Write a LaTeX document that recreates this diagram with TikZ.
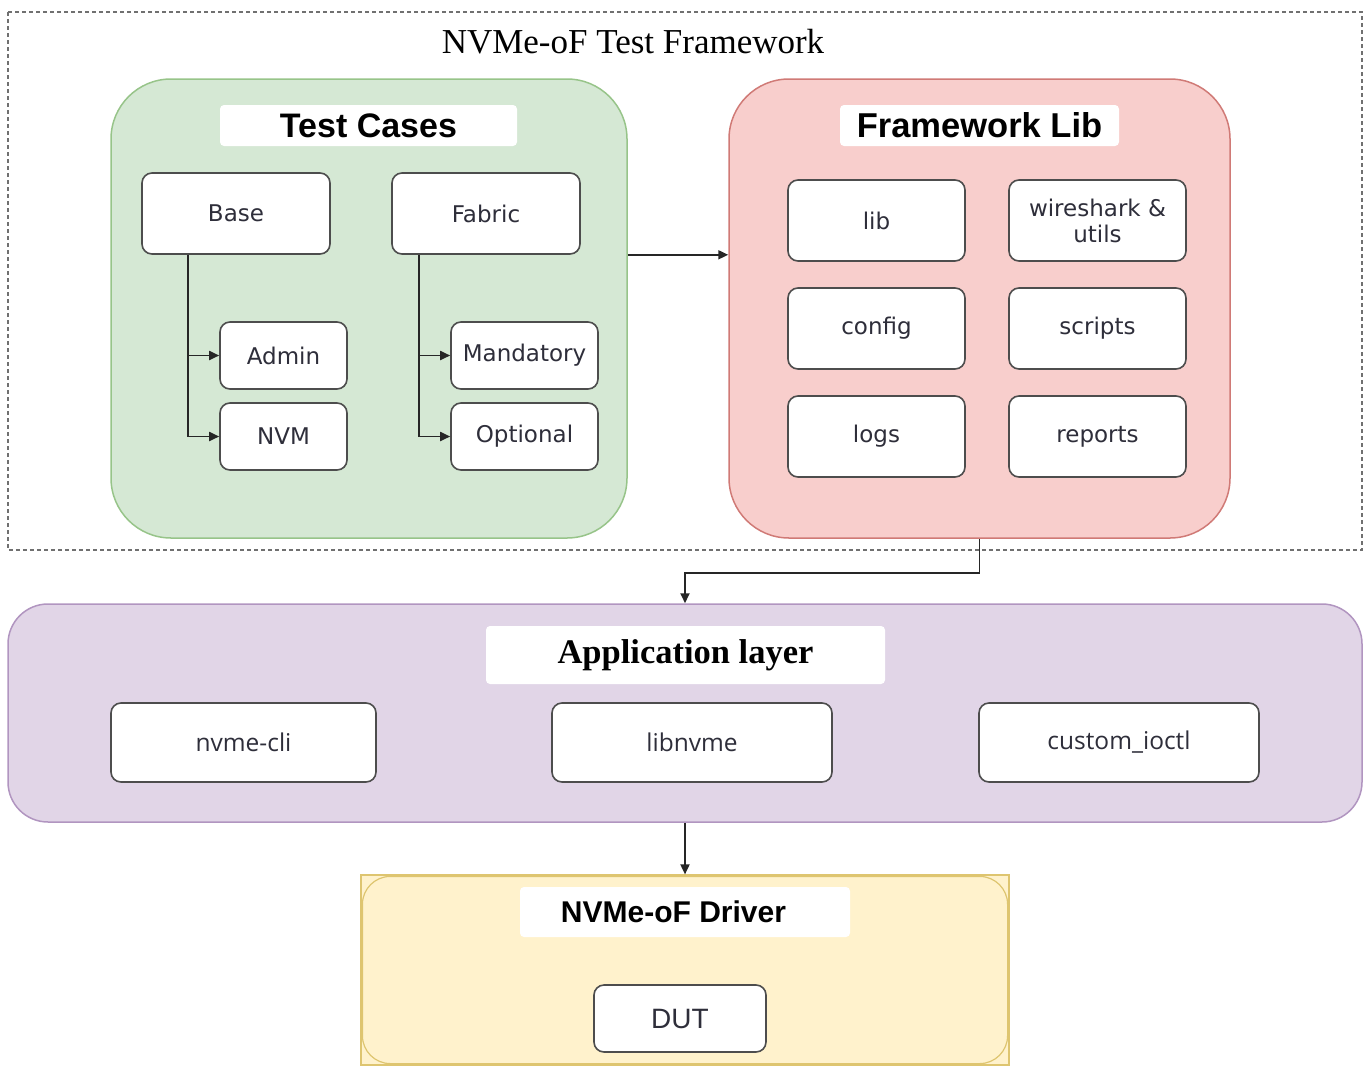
\documentclass[tikz,border=0pt]{standalone}
\usepackage{fontspec}
\setmainfont{Liberation Serif}
\newfontfamily\dejavu{DejaVu Sans}
\newfontfamily\opensans{Open Sans}
\newfontfamily\lsans{Liberation Sans}
\usetikzlibrary{arrows.meta,positioning}

\definecolor{grnfill}{HTML}{D5E8D4}
\definecolor{grnline}{HTML}{97C489}
\definecolor{redfill}{HTML}{F8CECC}
\definecolor{redline}{HTML}{D07A76}
\definecolor{purfill}{HTML}{E1D5E7}
\definecolor{purline}{HTML}{B195C0}
\definecolor{yelfill}{HTML}{FFF2CC}
\definecolor{yelline}{HTML}{DEC570}
\definecolor{boxline}{HTML}{4D4D4D}
\definecolor{boxtext}{HTML}{2E2E3A}
\definecolor{frameline}{HTML}{707070}

\tikzset{
  group/.style={draw, line width=1.5pt, rounded corners=60pt, inner sep=0pt},
  grouplabel/.style={fill=white, rounded corners=4pt, inner sep=0pt, text=black},
  item/.style={draw=boxline, fill=white, line width=1.6pt, rounded corners=10pt,
    inner sep=0pt, align=center, text=boxtext, font=\dejavu\fontsize{23}{26}\selectfont},
  appitem/.style={item, font=\opensans\fontsize{24.5}{28}\selectfont},
  arr/.style={draw=black!85, line width=1.8pt, -{Triangle[length=10pt,width=9pt]}}
}

\begin{document}
\begin{tikzpicture}[x=1pt,y=-1pt]
\useasboundingbox (0,0) rectangle (1368,1068);

% outer framework frame and its title
\draw[frameline, line width=1.4pt, dash pattern=on 4pt off 3pt] (8,12) rectangle (1362,550);
\node[font=\fontsize{35}{38}\selectfont] (title) at (633,42) {NVMe-oF Test Framework};

% test cases group
\node[group, draw=grnline, fill=grnfill, minimum width=516pt, minimum height=459pt] (green) at (369,308.5) {};
\node[grouplabel, minimum width=297pt, minimum height=41pt, font=\lsans\bfseries\fontsize{34}{36}\selectfont] (tclabel) at (368.5,125.5) {Test Cases};
\node[item, minimum width=188pt, minimum height=81pt] (base) at (236,213.5) {Base};
\node[item, minimum width=188pt, minimum height=81pt] (fabric) at (486,213.5) {Fabric};
\node[item, minimum width=127pt, minimum height=67pt] (admin) at (283.5,355.5) {Admin};
\node[item, minimum width=127pt, minimum height=67pt] (nvm) at (283.5,436.5) {NVM};
\node[item, minimum width=147pt, minimum height=67pt] (mand) at (524.5,355.5) {Mandatory};
\node[item, minimum width=147pt, minimum height=67pt] (opt) at (524.5,436.5) {Optional};

\draw[arr] ([xshift=-48pt]base.south) |- (admin.west);
\draw[arr] ([xshift=-48pt]base.south) |- (nvm.west);
\draw[arr] ([xshift=-67pt]fabric.south) |- (mand.west);
\draw[arr] ([xshift=-67pt]fabric.south) |- (opt.west);

% framework library group
\node[group, draw=redline, fill=redfill, minimum width=501pt, minimum height=459pt] (pink) at (979.5,308.5) {};
\node[grouplabel, minimum width=279pt, minimum height=41pt, font=\lsans\bfseries\fontsize{34.5}{36}\selectfont] (fllabel) at (979.5,125.5) {Framework Lib};
\node[item, minimum width=177pt, minimum height=81pt] (lib) at (876.5,220.5) {lib};
\node[item, minimum width=177pt, minimum height=81pt] (wire) at (1097.5,220.5) {wireshark \&\\utils};
\node[item, minimum width=177pt, minimum height=81pt] (config) at (876.5,328.5) {config};
\node[item, minimum width=177pt, minimum height=81pt] (scripts) at (1097.5,328.5) {scripts};
\node[item, minimum width=177pt, minimum height=81pt] (logs) at (876.5,436.5) {logs};
\node[item, minimum width=177pt, minimum height=81pt] (reports) at (1097.5,436.5) {reports};

\draw[arr] (green.east |- base.south) -- (pink.west |- base.south);

% application layer
\node[group, rounded corners=40pt, draw=purline, fill=purfill, minimum width=1354pt, minimum height=218pt] (purple) at (685,713) {};
\node[grouplabel, minimum width=399pt, minimum height=58pt, font=\bfseries\fontsize{34.5}{36}\selectfont] (applabel) at (685.5,655) {Application layer};
\node[appitem, minimum width=265pt, minimum height=79pt] (cli) at (243.5,742.5) {nvme-cli};
\node[appitem, minimum width=280pt, minimum height=79pt] (libnvme) at (692,742.5) {libnvme};
\node[appitem, minimum width=280pt, minimum height=79pt] (ioctl) at (1119,742.5) {custom\_ioctl};

\draw[arr] (pink.south) -- ++(0,34) -| (purple.north);

% driver layer
\node[draw=yelline, fill=yelfill, line width=1.2pt, inner sep=0pt, minimum width=648pt, minimum height=190pt] (yellow) at (685,970) {};
\draw[yelline, line width=1.2pt, rounded corners=28pt] ([shift={(2,2)}]yellow.north west) rectangle ([shift={(-2,-2)}]yellow.south east);
\node[grouplabel, minimum width=330pt, minimum height=50pt] (drvlabel) at (685,912) {};
\node[font=\lsans\bfseries\fontsize{30}{32}\selectfont, inner sep=0pt] (drvtext) at (673.5,912) {NVMe-oF Driver};
\node[item, minimum width=172pt, minimum height=67pt, font=\lsans\fontsize{28}{30}\selectfont] (dut) at (680,1018.5) {DUT};

\draw[arr] (purple.south) -- (yellow.north);
\end{tikzpicture}
\end{document}
